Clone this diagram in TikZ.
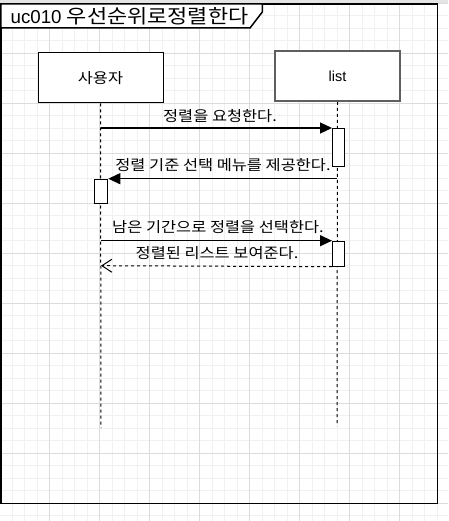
\documentclass[tikz,border=0pt]{standalone}
\usepackage{fontspec}
\setmainfont{Liberation Sans}
\newfontfamily\kr[FakeStretch=1.13]{Noto Sans CJK KR}
\usetikzlibrary{arrows.meta}
\definecolor{gridminor}{HTML}{F1F1F1}
\definecolor{gridmajor}{HTML}{DCDCDC}
\definecolor{boxgray}{HTML}{5F5F5F}
\definecolor{topgray}{HTML}{E4E4E4}
\tikzset{
  actorbox/.style={draw=black, fill=white, line width=1pt, minimum width=125pt, minimum height=50pt, inner sep=0pt, font=\fontsize{14.5}{16}\selectfont},
  actorboxgray/.style={actorbox, draw=boxgray, line width=2pt},
  lifeline/.style={line width=1pt, dash pattern=on 3pt off 3pt},
  actbar/.style={draw=black, fill=white, line width=1pt, minimum width=11.5pt, inner sep=0pt, anchor=north west},
  msg/.style={line width=1.3pt, -{Triangle[length=12pt,width=11pt]}},
  retmsg/.style={line width=1pt, dash pattern=on 3pt off 3pt, -{Straight Barb[length=10pt,width=13pt,line width=1pt]}},
  msglabel/.style={font=\kr\fontsize{14.5}{16}\selectfont, inner sep=0pt},
  framebox/.style={draw=black, line width=1.5pt},
}
\begin{document}
\begin{tikzpicture}[x=1pt,y=-1pt]
\useasboundingbox (0,0) rectangle (448,521);
% background grid
\fill[white] (0,0) rectangle (448,521);
\foreach \i in {0,...,36} \draw[gridminor, line width=0.8pt] ({-0.5+12.5*\i},0) -- ({-0.5+12.5*\i},521);
\foreach \j in {0,...,41} \draw[gridminor, line width=0.8pt] (0,{3.3+12.5*\j}) -- (448,{3.3+12.5*\j});
\foreach \i in {0,...,9} \draw[gridmajor, line width=0.8pt] ({-0.5+50*\i},0) -- ({-0.5+50*\i},521);
\foreach \j in {0,...,10} \draw[gridmajor, line width=0.8pt] (0,{3.3+50*\j}) -- (448,{3.3+50*\j});
\fill[topgray] (0,0) rectangle (448,3);
% frame
\draw[framebox] (0.75,4) rectangle (437.3,503.3);
\filldraw[framebox, fill=white] (0.75,4) -- (0.75,28) -- (250,28) -- (262.3,12) -- (262.3,4) -- cycle;
\node[anchor=west, inner sep=0pt, font=\fontsize{18.7}{20}\selectfont] (title) at (10.5,16.5) {uc010 {\kr\fontsize{19.4}{22}\selectfont 우선순위로정렬한다}};
% actors
\node[actorbox, font=\kr\fontsize{14.5}{16}\selectfont] (user) at (100.5,78) {사용자};
\node[actorboxgray] (list) at (337.5,76) {list};
% lifelines
\coordinate (userend) at (101,428);
\coordinate (listend) at (337,426);
\draw[lifeline] (user.south) -- (userend);
\draw[lifeline] (list.south) -- (listend);
% activations
\node[actbar, minimum height=37.7pt] (a1) at (332,128) {};
\node[actbar, minimum width=13pt, minimum height=24pt] (a2) at (94.3,178.7) {};
\node[actbar, minimum height=25pt] (a3) at (332,240.7) {};
% message start points on lifelines
\coordinate (m1s) at (101,128);
\coordinate (m2s) at (337,178.7);
\coordinate (m3s) at (101,240.7);
\coordinate (m4e) at (101,265.7);
% messages
\draw[msg] (m1s) -- (a1.north west);
\node[msglabel] (l1) at (220,116) {정렬을 요청한다.};
\draw[msg] (m2s) -- (a2.north east);
\node[msglabel] (l2) at (223,165) {정렬 기준 선택 메뉴를 제공한다.};
\draw[msg] (m3s) -- (a3.north west);
\node[msglabel] (l3) at (218,227.5) {남은 기간으로 정렬을 선택한다.};
\draw[retmsg] (a3.south west) -- (m4e);
\node[msglabel] (l4) at (217,253.5) {정렬된 리스트 보여준다.};
\end{tikzpicture}
\end{document}
